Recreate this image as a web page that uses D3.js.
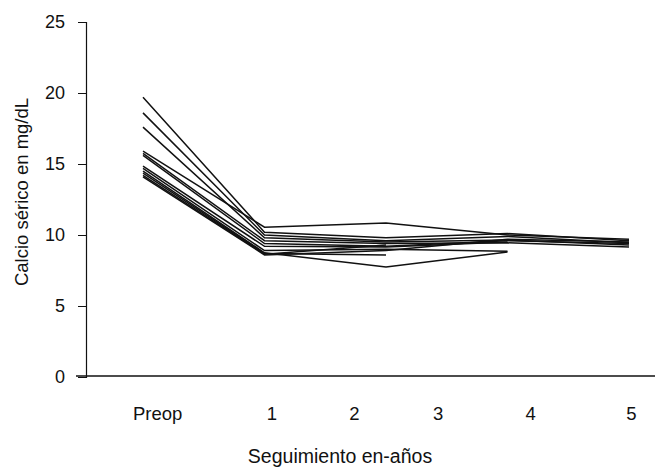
<!doctype html>
<html>
<head>
<meta charset="utf-8">
<script src="https://cdn.jsdelivr.net/npm/d3@7"></script>
<style>
  body { margin: 0; background: #fff; }
  svg { display: block; }
  text { font-family: "Liberation Sans", Arial, sans-serif; fill: #111; }
</style>
</head>
<body>
<svg id="chart" width="655" height="472"></svg>
<script>
  // visits: 0 = preop, then follow-up controls
  var visits = [0, 1, 2, 3, 4];

  // serum calcium per patient (mg/dL), null = no control
  var patients = [
    [15.9, 10.55, 10.85, 10.0, 9.7],
    [19.7, 10.2, 9.8, 10.1, 9.6],
    [18.6, 10.0, 9.6, 9.9, 9.45],
    [17.6, 9.8, 9.5, 9.65, 9.3],
    [15.75, 9.6, 9.4, 9.45, 9.15],
    [15.6, 9.4, 9.2, 9.6, 9.4],
    [14.85, 9.2, 9.15, 9.5, null],
    [14.7, 8.9, 9.0, 8.85, null],
    [14.5, 8.75, 7.75, 8.8, null],
    [14.35, 8.7, 8.6, null, null],
    [14.2, 8.65, 9.3, null, null],
    [14.1, 8.6, 8.9, 9.7, 9.5]
  ];

  var xLabels = ['Preop', '1', '2', '3', '4', '5'];
  // where each label sits along the visit axis
  var xLabelAt = [0.12, 1.06, 1.74, 2.43, 3.19, 4.02];
  var yTicks = [0, 5, 10, 15, 20, 25];

  var svg = d3.select('#chart');

  var x = d3.scaleLinear().domain([0, 4]).range([143, 629]);
  var y = d3.scaleLinear().domain([0, 25]).range([377, 22]);

  // y axis
  var yAxis = d3.axisLeft(y).tickValues(yTicks).tickSize(8).tickPadding(13);
  var gy = svg.append('g').attr('transform', 'translate(86,0)').call(yAxis);
  gy.select('.domain').attr('stroke', '#111').attr('stroke-width', 1.2);
  gy.selectAll('.tick line').attr('stroke', '#111');
  gy.selectAll('.tick text').attr('font-size', 18).attr('fill', '#111')
    .attr('font-family', '"Liberation Sans", Arial, sans-serif');

  // x axis line and labels
  svg.append('line')
    .attr('x1', 76).attr('x2', 655)
    .attr('y1', 376).attr('y2', 376)
    .attr('stroke', '#111').attr('stroke-width', 1.4);

  svg.append('g').selectAll('text')
    .data(xLabels)
    .join('text')
    .attr('x', function (d, i) { return x(xLabelAt[i]); })
    .attr('y', 420)
    .attr('text-anchor', 'middle')
    .attr('font-size', 18.5)
    .text(function (d) { return d; });

  // patient lines
  var line = d3.line()
    .defined(function (d) { return d != null; })
    .x(function (d, i) { return x(visits[i]); })
    .y(function (d) { return y(d); });

  svg.append('g').selectAll('path')
    .data(patients)
    .join('path')
    .attr('d', line)
    .attr('fill', 'none')
    .attr('stroke', '#111')
    .attr('stroke-width', 1.5);

  // axis titles
  svg.append('text')
    .attr('transform', 'translate(28,192) rotate(-90)')
    .attr('text-anchor', 'middle')
    .attr('font-size', 18.5)
    .text('Calcio sérico en mg/dL');

  svg.append('text')
    .attr('x', 340).attr('y', 463)
    .attr('text-anchor', 'middle')
    .attr('font-size', 19.5)
    .text('Seguimiento en-años');
</script>
</body>
</html>
